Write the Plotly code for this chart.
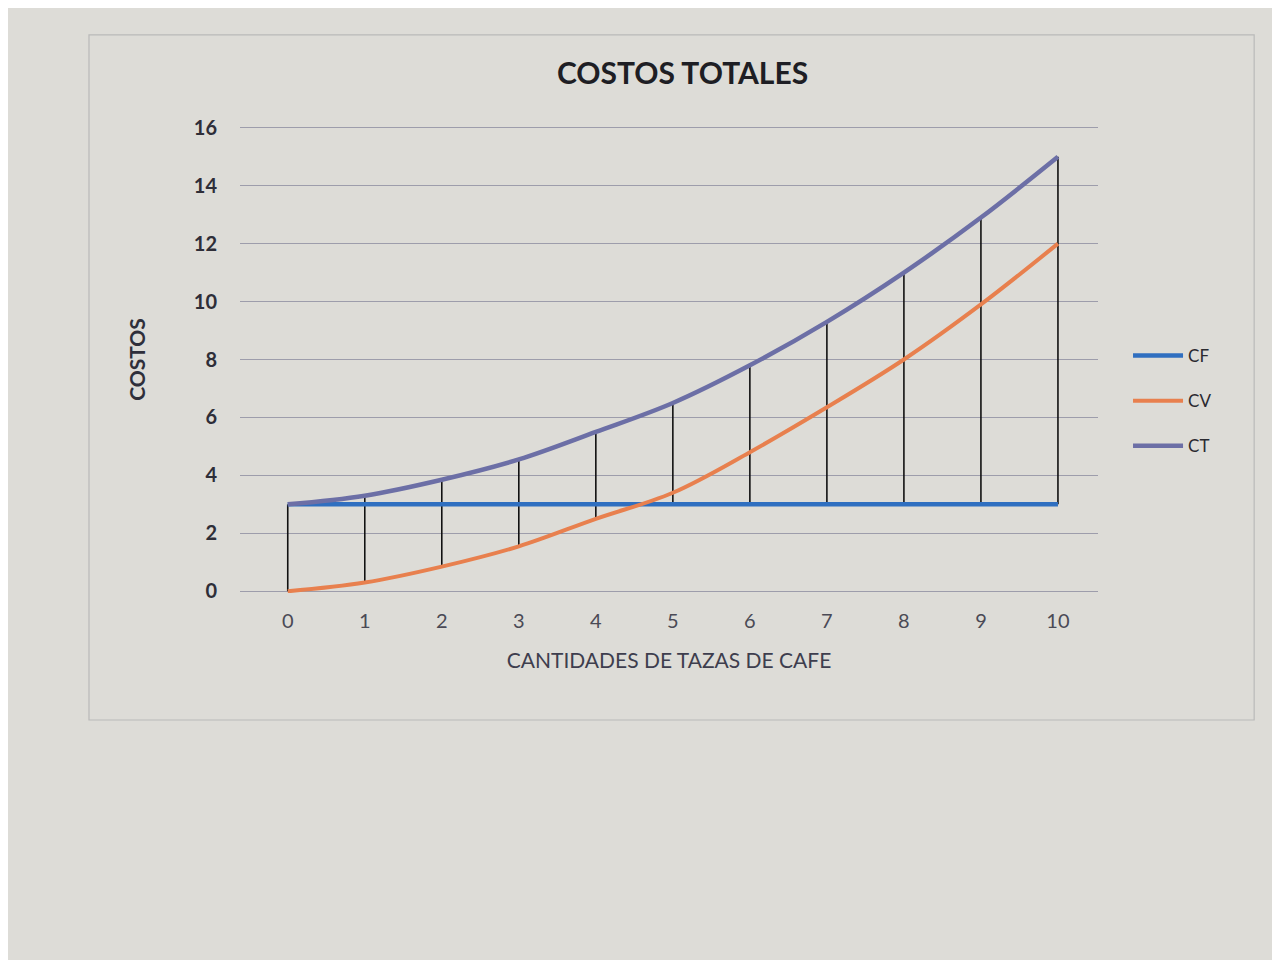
import plotly.graph_objects as go

# Data
cantidades = [0, 1, 2, 3, 4, 5, 6, 7, 8, 9, 10]
cf = [3, 3, 3, 3, 3, 3, 3, 3, 3, 3, 3]
cv = [0, 0.3, 0.85, 1.55, 2.5, 3.4, 4.8, 6.35, 8.0, 9.9, 12.0]
ct = [3, 3.3, 3.85, 4.55, 5.5, 6.5, 7.8, 9.3, 11.0, 12.9, 15.0]
y_ticks = [0, 2, 4, 6, 8, 10, 12, 14, 16]

# High-low lines (Excel style): from lowest to highest series value at each x
hl_x, hl_y = [], []
for x, a, b, c in zip(cantidades, cf, cv, ct):
    lo = min(a, b, c)
    hi = max(a, b, c)
    hl_x += [x, x, None]
    hl_y += [lo, hi, None]

fig = go.Figure()
fig.add_trace(go.Scatter(x=hl_x, y=hl_y, mode="lines",
                         line=dict(color="#111111", width=1.6),
                         showlegend=False, hoverinfo="skip"))
fig.add_trace(go.Scatter(x=cantidades, y=cf, name="CF", mode="lines",
                         line=dict(color="#2f6fc0", width=4.5, shape="spline"),
                         legendgroup="cf"))
fig.add_trace(go.Scatter(x=cantidades, y=cv, name="CV", mode="lines",
                         line=dict(color="#e8804e", width=4, shape="spline"),
                         legendgroup="cv"))
fig.add_trace(go.Scatter(x=cantidades, y=ct, name="CT", mode="lines",
                         line=dict(color="#6c6fa6", width=4.5, shape="spline"),
                         legendgroup="ct"))

font_family = "Lato, 'Open Sans', 'Liberation Sans', sans-serif"

fig.update_layout(
    width=1280, height=960,
    margin=dict(l=232, r=190, t=118, b=375),
    paper_bgcolor="#dddcd7",
    plot_bgcolor="#dddcd7",
    font=dict(family=font_family, color="#333338"),
    title=dict(text="<b>COSTOS TOTALES</b>", x=0.527, xanchor="center",
               y=0.932, yanchor="middle",
               font=dict(size=30, color="#1e1e24", family=font_family)),
    xaxis=dict(range=[-0.62, 10.52], tickmode="array", tickvals=cantidades,
               ticktext=[str(v) for v in cantidades],
               showgrid=False, zeroline=False, showline=False,
               tickfont=dict(size=20, color="#4a4a55"), ticklen=0,
               ticklabelstandoff=14,
               title=dict(text="CANTIDADES DE TAZAS DE CAFE",
                          font=dict(size=21, color="#3e3e4e"), standoff=22)),
    yaxis=dict(range=[-0.06, 16.06], tickmode="array", tickvals=y_ticks,
               showgrid=True, gridcolor="#9d9dab", gridwidth=1.3,
               zeroline=False, showline=False,
               tickfont=dict(size=20, color="#2e2e38", weight="bold"), ticklen=0,
               ticklabelstandoff=22,
               title=dict(text="<b>COSTOS</b>", font=dict(size=21, color="#2f2f3a"),
                          standoff=42)),
    legend=dict(x=1.035, y=0.546, xanchor="left", yanchor="top",
                bgcolor="rgba(0,0,0,0)", font=dict(size=17, color="#2a2a30"),
                tracegroupgap=20, itemwidth=50),
    shapes=[dict(type="rect", xref="paper", yref="paper",
                 x0=-0.176, x1=1.182, y0=-0.272, y1=1.195,
                 line=dict(color="#b9b9b9", width=1.2), fillcolor="rgba(0,0,0,0)",
                 layer="below")],
)

fig.write_html("out.html")
